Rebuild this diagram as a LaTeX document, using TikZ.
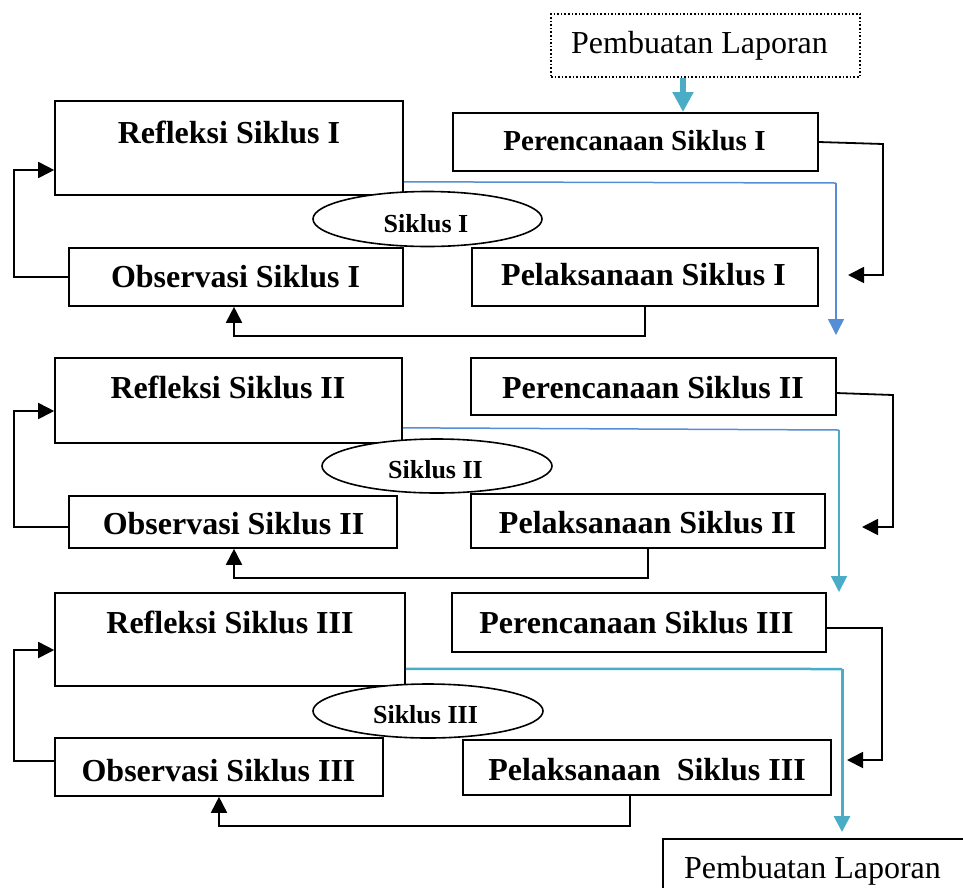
\documentclass[tikz,border=0pt]{standalone}
\usepackage{fontspec}
\setmainfont{Liberation Serif}
\usetikzlibrary{arrows.meta,shapes.geometric,fit}
\definecolor{lblue}{HTML}{558ED5}
\definecolor{lcyan}{HTML}{4BACC6}
\begin{document}
\begin{tikzpicture}[x=1pt,y=-1pt,
  boxst/.style={draw,line width=1.6pt,inner sep=0pt},
  ell/.style={draw,ellipse,fill=white,line width=1.6pt,inner sep=0pt},
  tb/.style={font=\fontsize{32}{38}\selectfont\bfseries,inner sep=0pt,anchor=base},
  tbs/.style={font=\fontsize{29}{34}\selectfont\bfseries,inner sep=0pt,anchor=base},
  te/.style={font=\fontsize{26}{30}\selectfont\bfseries,inner sep=0pt,anchor=base},
  tr/.style={font=\fontsize{32}{38}\selectfont,inner sep=0pt,anchor=base},
  conn/.style={draw,line width=1.8pt,-{Triangle[length=16pt,width=16pt]}},
  bluel/.style={draw=lblue,line width=1.5pt},
  cyanl/.style={draw=lcyan,line width=1.8pt},
  cyanthick/.style={draw=lcyan,line width=3pt},
  bluearr/.style={-{Triangle[length=16pt,width=16pt]}},
]
\useasboundingbox (0,0) rectangle (963,887);

% top report box
\node[boxst,dotted,fit={(551,14) (860,77)}] (L0) {};
\node[tr] (L0t) at (699.5,53) {Pembuatan Laporan};

% ---------- Row 1 ----------
\node[boxst,fit={(55,101) (403,195)}] (r1) {};
\node[tb] (r1t) at (229,143) {Refleksi Siklus I};
\node[boxst,fit={(453,113) (818,171)}] (p1) {};
\node[tbs] (p1t) at (634.5,150) {Perencanaan Siklus I};
\node[boxst,fit={(69,248) (403,306)}] (o1) {};
\node[tb] (o1t) at (235.5,287) {Observasi Siklus I};
\node[boxst,fit={(472,248) (818,306)}] (pl1) {};
\node[tb] (pl1t) at (643.5,285) {Pelaksanaan Siklus I};
\node[ell,minimum width=229pt,minimum height=55pt] (e1) at (427.5,219) {};
\node[te] (e1t) at (426,232) {Siklus I};

% ---------- Row 2 ----------
\node[boxst,fit={(55,358) (402,443)}] (r2) {};
\node[tb] (r2t) at (228,398) {Refleksi Siklus II};
\node[boxst,fit={(471,358) (836,415)}] (p2) {};
\node[tb] (p2t) at (653,398) {Perencanaan Siklus II};
\node[boxst,fit={(69,496) (397,548)}] (o2) {};
\node[tb] (o2t) at (233.5,534) {Observasi Siklus II};
\node[boxst,fit={(471,494) (825,548)}] (pl2) {};
\node[tb] (pl2t) at (647.5,533) {Pelaksanaan Siklus II};
\node[ell,minimum width=230pt,minimum height=54pt] (e2) at (437,466) {};
\node[te] (e2t) at (435.5,478) {Siklus II};

% ---------- Row 3 ----------
\node[boxst,fit={(55,593) (405,686)}] (r3) {};
\node[tb] (r3t) at (230,633) {Refleksi Siklus III};
\node[boxst,fit={(452,593) (826,652)}] (p3) {};
\node[tb] (p3t) at (636.5,633) {Perencanaan Siklus III};
\node[boxst,fit={(55,738) (383,796)}] (o3) {};
\node[tb] (o3t) at (218.5,781) {Observasi Siklus III};
\node[boxst,fit={(463,740) (831,795)}] (pl3) {};
\node[tb] (pl3t) at (647,780) {Pelaksanaan\ \ Siklus III};
\node[ell,minimum width=230pt,minimum height=54pt] (e3) at (428,711) {};
\node[te] (e3t) at (425.5,723) {Siklus III};

% bottom report box
\node[boxst,fit={(663,839) (980,905)}] (L1) {};
\node[tr] (L1t) at (812.5,878) {Pembuatan Laporan};

% ---------- coordinates ----------
\coordinate (a0) at (683,112);
\coordinate (p1a) at (883,144);
\coordinate (p1e) at (848,275);
\coordinate (l1) at (14,170);
\coordinate (b1) at (234,336);
\coordinate (c1) at (836,183);
\coordinate (c1e) at (836,335);

\coordinate (p2s) at (836,393);
\coordinate (p2a) at (893,395);
\coordinate (p2e) at (862,527);
\coordinate (l2) at (14,411);
\coordinate (b2) at (234,578);
\coordinate (c2) at (839,430);
\coordinate (c2e) at (839,592);

\coordinate (p3a) at (882,628);
\coordinate (p3e) at (847,760);
\coordinate (l3) at (14,650);
\coordinate (b3) at (219,826);
\coordinate (c3) at (842,669);
\coordinate (c3e) at (842,832);

% top thick arrow
\draw[draw=lcyan,line width=6pt,-{Triangle[length=20pt,width=20pt]}] (a0 |- L0.south) -- (a0);

% ---------- connectors row 1 ----------
\draw[conn] (p1.east) -- (p1a) |- (p1e);
\draw[conn] (o1.west) -| (l1) -- (l1 -| r1.west);
\draw[conn] (pl1.south) |- (b1) -- (b1 |- o1.south);
\draw[bluel] ([yshift=14pt]r1.south east) -- (c1);
\draw[bluel,bluearr] (c1) -- (c1e);

% ---------- connectors row 2 ----------
\draw[conn] (p2s) -- (p2a) |- (p2e);
\draw[conn] (o2.west |- 0,527) -| (l2) -- (l2 -| r2.west);
\draw[conn] (pl2.south) |- (b2) -- (b2 |- o2.south);
\draw[bluel] ([yshift=16pt]r2.south east) -- (c2);
\draw[cyanl,bluearr] (c2) -- (c2e);

% ---------- connectors row 3 ----------
\draw[conn] (p3.east |- p3a) -- (p3a) |- (p3e);
\draw[conn] (o3.west |- 0,761) -| (l3) -- (l3 -| r3.west);
\draw[conn] (pl3.south -| 630,0) |- (b3) -- (b3 |- o3.south);
\draw[cyanl,line width=2.5pt] ([yshift=18pt]r3.south east) -- (c3);
\draw[cyanthick,bluearr] (c3) -- (c3e);
\end{tikzpicture}
\end{document}
